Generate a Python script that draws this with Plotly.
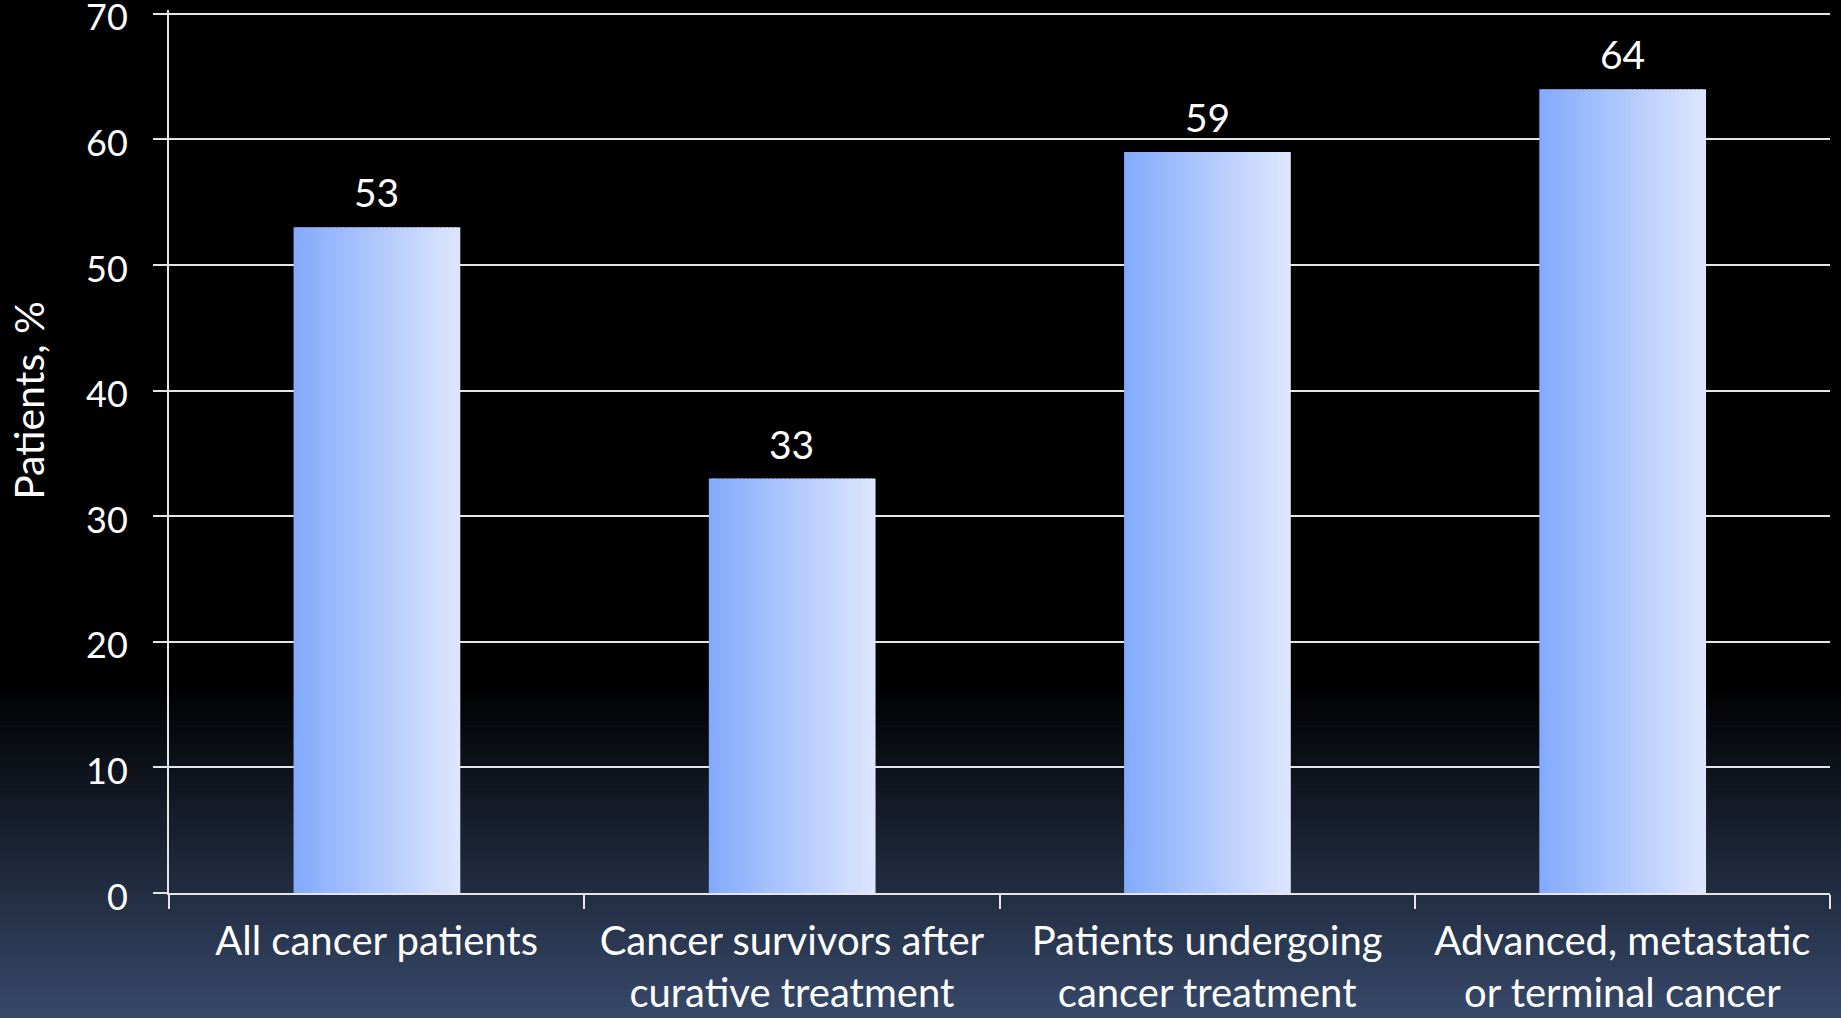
import plotly.graph_objects as go

categories = [
    "All cancer patients",
    "Cancer survivors after<br>curative treatment",
    "Patients undergoing<br>cancer treatment",
    "Advanced, metastatic<br>or terminal cancer",
]
values = [53, 33, 59, 64]
y_ticks = [0, 10, 20, 30, 40, 50, 60, 70]
y_title = "Patients, %"

# layout constants (pixels)
W, H = 1841, 1018
Y_MAX = 70.3
UNIT = (893 - 14) / 70.0
ML, MR, MB = 169, 11, 125
MT = 14 - (Y_MAX - 70) * UNIT
PW, PH = W - ML - MR, H - MT - MB

FONT = "Lato"

def lerp(c1, c2, t):
    return tuple(round(a + (b - a) * t) for a, b in zip(c1, c2))

def hexc(c):
    return "#%02x%02x%02x" % c

fig = go.Figure()

# bar gradient built from thin overlaid bar slices
bar_w = 0.40
n_slices = 40
left_c, right_c = (0x84, 0xaa, 0xfd), (0xdc, 0xe5, 0xfe)
sw = bar_w / n_slices
for i in range(n_slices):
    t = i / (n_slices - 1)
    fig.add_trace(go.Bar(
        x=categories, y=values,
        width=sw * 1.35, offset=-bar_w / 2 + i * sw - (0.0 if i == 0 else sw * 0.2),
        marker=dict(color=hexc(lerp(left_c, right_c, t)), line=dict(width=0)),
        hoverinfo="skip", showlegend=False,
    ))

# value labels above bars
annotations = [dict(
    x=c, y=v, xref="x", yref="y", text=str(v),
    xanchor="center", yanchor="bottom", yshift=10, showarrow=False,
    font=dict(family=FONT, size=39, color="white"),
) for c, v in zip(categories, values)]

annotations.append(dict(
    text=y_title, textangle=-90,
    xref="paper", yref="paper",
    x=(29 - ML) / PW, y=(H - MB - 401) / PH,
    xanchor="center", yanchor="middle", showarrow=False,
    font=dict(family=FONT, size=41, color="white"),
))

# background gradient (black top, navy bottom)
shapes = []
g_top_px, g_bot_px = 683, H
top_c, bot_c = (0, 0, 0), (0x37, 0x49, 0x6a)
n_strips = 80
for i in range(n_strips):
    y0px = g_top_px + (g_bot_px - g_top_px) * i / n_strips
    y1px = g_top_px + (g_bot_px - g_top_px) * (i + 1) / n_strips + 1
    t = (i + 0.5) / n_strips
    shapes.append(dict(
        type="rect", xref="paper", yref="paper", layer="below",
        x0=-ML / PW - 0.01, x1=1 + MR / PW + 0.01,
        y0=(H - MB - y1px) / PH, y1=(H - MB - y0px) / PH,
        fillcolor=hexc(lerp(top_c, bot_c, t)), line=dict(width=0),
    ))

fig.update_layout(
    width=W, height=H,
    margin=dict(l=ML, r=MR, t=MT, b=MB, pad=0, autoexpand=False),
    paper_bgcolor="black",
    plot_bgcolor="rgba(0,0,0,0)",
    barmode="overlay",
    shapes=shapes,
    annotations=annotations,
    font=dict(family=FONT, size=40, color="white"),
    xaxis=dict(
        type="category",
        automargin=False,
        showgrid=False,
        showline=True, linecolor="#e6e6e6", linewidth=2,
        ticks="outside", tickson="boundaries", ticklen=14, tickwidth=2, tickcolor="#e6e6e6",
        tickfont=dict(family=FONT, size=40, color="white"),
        ticklabelstandoff=12,
        range=[-0.5, 3.5],
    ),
    yaxis=dict(
        automargin=False,
        range=[0, Y_MAX],
        tickvals=y_ticks,
        showgrid=True, gridcolor="#e6e6e6", gridwidth=2,
        showline=True, linecolor="#e6e6e6", linewidth=2,
        ticks="outside", ticklen=14, tickwidth=2, tickcolor="#e6e6e6",
        tickfont=dict(family=FONT, size=36, color="white"),
        ticklabelstandoff=18,
        ticklabelshift=4,
        ticklabeloverflow="allow",
        zeroline=False,
    ),
)

fig.write_html("out.html")
